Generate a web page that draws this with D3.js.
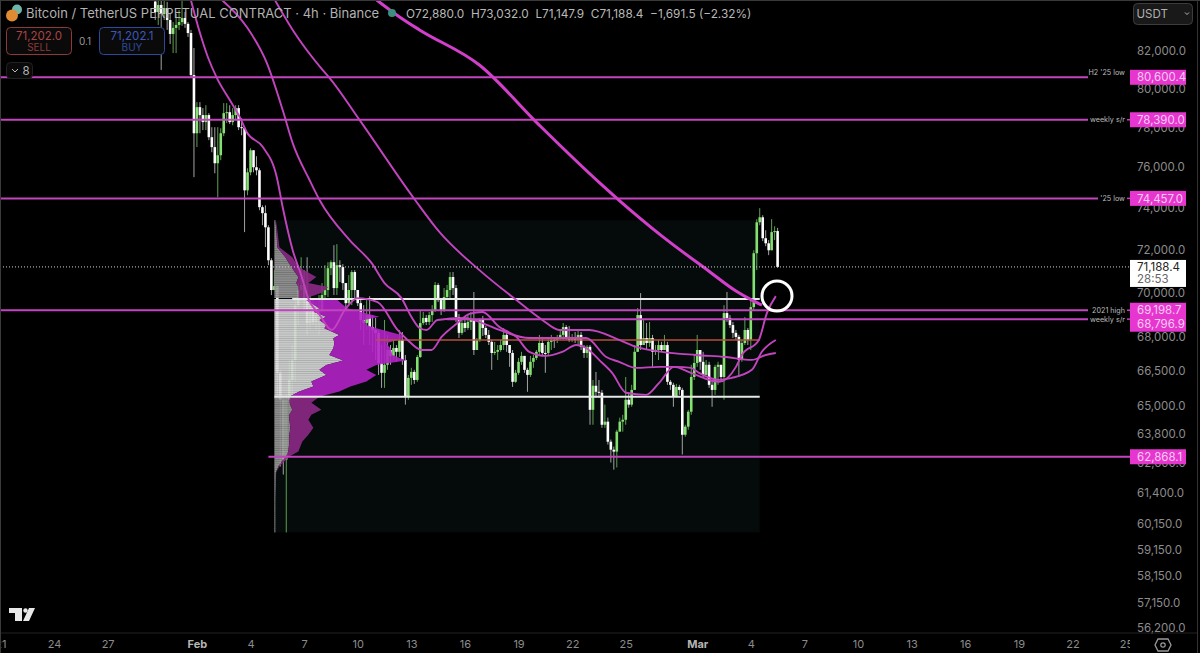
<!DOCTYPE html>
<html><head><meta charset="utf-8">
<script src="https://cdn.jsdelivr.net/npm/d3@7/dist/d3.min.js"></script>
<style>html,body{margin:0;padding:0;background:#000;overflow:hidden}svg{display:block;font-family:Inter,"Liberation Sans",sans-serif}</style>
</head><body><svg id="c" width="1200" height="653"></svg>
<script>
// ---- candles (4h, first bar 2026-01-29 16:00 UTC); open = previous close
const firstBar = "2026-01-29T16:00:00Z";
const firstOpen = 84700;
const closes = [84120,84510,
84010,84340,83680,82920,83250,83410,
83570,83790,83470,82970,80720,77700,
79040,78630,78270,78630,77500,77000,
76190,76590,77700,78730,78780,78270,
78630,78990,78010,77960,74850,75740,
76840,75990,75840,74030,73740,73060,
71500,70120,70300,66420,65260,62750,
65260,66110,66980,69430,70120,70350,
69660,68620,69430,68670,68980,69210,
69890,70120,71130,71410,70210,71270,
71180,70440,69520,70120,70950,70120,
69520,68760,68620,68980,68440,68310,
68180,66850,66420,66770,67420,67160,
67510,67340,67870,66980,65380,66200,
66460,66110,67110,68620,68850,68670,
68980,69210,70350,69660,69210,69800,
70120,70720,70210,68890,68180,68620,
68400,68670,68760,67420,67870,68760,
68400,68090,67780,67290,67340,67420,
67640,68090,67640,67290,66030,66420,
66900,67160,66550,66330,66900,67070,
67340,67730,67290,67290,67780,67870,
67870,67950,68090,68440,68000,67870,
67950,67870,68090,67560,67290,67560,
64830,65860,65600,65560,64200,64330,
63490,63160,63080,63910,64330,64410,
65260,65050,65680,67340,68980,67640,
67950,67730,67950,67340,67420,67640,
67420,67640,66030,65900,65380,65810,
65680,63780,64120,64750,66240,66850,
67420,66900,66330,66770,65900,65680,
66680,66770,66240,69070,68850,68530,
68180,68000,66980,67730,68310,67870,
69340,71830,73300,73540,72540,72300,
71970,72830,72880,71188.4];
const highs = [84785,84785,
84785,84785,84680,84010,83570,84010,
84230,84785,84120,83570,83140,82160,
79300,79300,78990,79140,78730,78010,
78010,78010,77960,79250,79250,79140,
78990,79140,79140,78470,77960,75940,
76940,76840,76540,75940,74120,74120,
73160,71600,71040,70350,66550,65340,
65470,66980,67640,69660,70440,71640,
71040,71640,69890,69660,69570,69890,
70440,71270,71410,71500,72210,72260,
71500,71320,70440,70810,71040,71040,
70030,69660,69430,69660,69840,68980,
68850,68310,67640,68760,68090,67640,
67870,67640,68310,68220,67200,66330,
66640,66550,67200,69210,69120,68980,
69120,69430,70490,70440,69750,70210,
70350,70950,70950,70350,69030,68850,
68850,68980,69120,70030,67950,68850,
68940,68490,68310,67870,67780,67640,
67870,68400,68310,67640,67420,66550,
67070,67340,67160,66640,67160,67200,
67420,68090,68000,67640,67950,68090,
67950,68090,68310,68620,68530,68490,
68130,68220,68310,68220,67640,67640,
67640,66110,66460,66110,65680,65050,
64500,63580,63290,63990,64500,64620,
66240,65560,65900,67640,69300,69980,
68760,68620,68670,68090,67640,67870,
67780,68090,67780,66110,65990,65940,
65900,65770,64200,64830,66770,67200,
68090,67420,67340,66980,66900,66110,
66770,66900,66770,69430,70030,68980,
68670,68310,68090,67870,68890,68400,
69660,71970,73450,73980,73640,72920,
72450,73450,73110,73032];
const lows = [83680,83410,
80990,83680,83140,82380,81890,81890,
83140,83360,83250,82760,80560,75500,
77000,77700,77860,77860,77350,76740,
75690,74510,76340,77550,78220,78170,
78110,78370,77860,77600,72830,74610,
75590,75740,75590,73880,73160,72120,
71270,69890,70120,65380,62470,62140,
59830,64830,65470,66030,68530,69660,
69120,68090,68310,68530,68310,68090,
69120,69660,69800,70810,69890,69890,
70490,70120,69210,69430,69430,69660,
69390,68310,67640,68310,67640,67340,
66980,66330,65770,65770,66550,66770,
66980,66900,67110,66770,65050,65260,
65900,65940,66030,67070,68530,68530,
68530,68670,69120,69570,68980,69120,
69660,69750,69890,68670,67950,68090,
68220,68310,68310,67200,67420,67780,
68040,67950,67640,66550,67200,66980,
67340,67420,67340,66680,65810,65990,
66330,66770,66420,65600,66240,66640,
66980,67200,67160,66420,67200,67420,
67510,67730,67870,67870,67870,67780,
67780,67730,67640,67420,67070,67070,
64200,64200,65340,65340,64070,64070,
63370,62630,62340,62430,63910,63910,
64200,64920,64960,65680,67340,67420,
67640,67420,67560,66680,67200,66980,
67340,67420,65900,65680,64960,65600,
65470,62960,63700,63990,64620,66110,
66680,66550,66200,66330,65770,64960,
65470,65900,66030,65260,68670,68400,
67950,67870,66240,66900,67640,67640,
67420,69210,71040,73160,72400,72160,
71740,71970,72450,71147.9];

// ---- moving averages: day offset from 1 Feb and price
const epochFeb1 = "2026-02-01T00:00:00Z";
const maFastDays = [-0.34,0.17,0.61,1.12,1.84,2.40,2.79,3.69,4.47,4.80,5.36,5.87,6.20,6.87,7.54,8.27,8.99,10.11,11.23,11.79,12.57,13.13,13.69,14.58,15.25,15.98,16.93,17.88,18.60,19.55,20.45,21.23,21.79,22.51,23.24,24.02,25.14,25.87,26.70,27.65,29.22,30.17,30.50,31.45,31.90,32.40];
const maFastPrices = [84785,82970,81680,80560,79406,78525,77755,77000,75495,74025,71975,70720,69800,68980,68310,69207,69750,69570,68310,67865,67423,67423,68000,68620,69030,69120,68440,68000,67340,67160,67340,67640,67510,66985,66420,65560,65470,65985,66680,66420,66030,66680,67200,67865,69070,69840];
const maMidDays = [1.40,2.79,3.91,4.80,5.36,6.31,6.87,8.55,9.78,10.50,11.45,12.01,12.46,12.85,13.46,14.97,15.98,16.93,18.60,20.11,21.79,22.91,23.63,24.58,25.87,26.82,27.65,28.10,29.22,29.94,31.06,31.62,32.40];
const maMidPrices = [84785,83300,81360,78890,77200,75345,74365,72445,71365,70440,69750,68890,68400,68310,68760,68850,68620,68310,67950,67950,67950,67110,66900,66635,66680,66680,66635,66420,66115,66200,66550,67340,67865];
const maSlowDays = [4.36,5.36,7.04,7.43,9.11,12.18,13.58,15.81,17.88,19.33,20.28,21.96,23.63,24.58,26.03,27.93,29.61,31.06,31.84,32.40];
const maSlowPrices = [84785,83140,80985,80560,78370,74415,72825,71040,69660,68760,68310,68310,67865,67555,67340,67200,67110,66985,67200,67290];
const maLongDays = [10.06,11.34,12.46,15.81,19.16,22.51,23.63,26.03,28.66,30.17,31.06,31.62];
const maLongPrices = [84785,83850,83140,81250,78115,75240,74365,72640,70990,70075,69660,69435];

// ---- volume profile rows
const vpPrices = [73400,72920,72115,71640,71180,70720,70440,70255,69980,69750,69705,69510,69285,69130,68905,68760,68530,68385,68090,67940,67720,67500,67205,66955,66765,66550,66330,66040,65825,65610,65385,65130,64835,64620,64410,64075,63785,63495,63080,62875,62470,62225,61135,59830];
const vpGrey = [1,2,3,11,17,24,22,24,24,24,30,37,45,39,52,45,52,50,65,59,60,59,55,69,52,45,52,37,39,25,15,15,18,15,15,16,15,15,14,11,4,1.5,1,1];
const vpColor = [0.5,1,2,7,7,18,12,30,23,8,32,30,28,47,53,45,40,52,62,70,52,57,63,63,50,47,50,55,37,40,30,22,29,22,19,23,19,13,10,4,1,0.3,0,0];
const vaHigh = 69705, vaLow = 65385, poc = 67865;

// ---- levels
const levelPrices = [80600.4,78390.0,74457.0,69198.7,68796.9,62868.1];
const levelNotes = ["H2 '25 low","weekly s/r","'25 low","2021 high","weekly s/r",""];
const levelStarts = ["2026-01-21","2026-01-21","2026-01-21","2026-01-21","2026-02-15","2026-02-05T00:00:00Z"];
const lastPrice = 71188.4;
const priceTicks = [82000,80000,78000,76000,74000,72000,70000,68000,66500,65000,63800,62600,61400,60150,59150,58150,57150,56200];
const timeTickDates = ["2026-01-21","2026-01-24","2026-01-27","2026-02-01","2026-02-04","2026-02-07","2026-02-10","2026-02-13","2026-02-16","2026-02-19","2026-02-22","2026-02-25","2026-03-01","2026-03-04","2026-03-07","2026-03-10","2026-03-13","2026-03-16","2026-03-19","2026-03-22","2026-03-25"];
const zoneStart = "2026-02-05T08:00:00Z", zoneEnd = "2026-03-04T12:00:00Z", zoneTop = 73400, zoneBottom = 59830;

const W=1200,H=653,plotR=1130,plotB=633;
const pink="#c344bf", tag="#e636cf";
const svg=d3.select("#c");
const x=d3.scaleUtc().domain([new Date("2026-01-21"),new Date("2026-03-25")]).range([0.4,1126]);
const y=d3.scaleLog().domain([82000,56200]).range([51,628]);
const t0=+new Date(firstBar), feb1=+new Date(epochFeb1), DAY=864e5;

svg.append("rect").attr("width",W).attr("height",H).attr("fill","#000");
const defs=svg.append("defs");
defs.append("clipPath").attr("id","plot").append("rect").attr("width",plotR).attr("height",plotB);
defs.append("clipPath").attr("id","time").append("rect").attr("width",plotR).attr("height",H);
const pat=defs.append("pattern").attr("id","rows").attr("patternUnits","userSpaceOnUse").attr("width",4).attr("height",2.2);
pat.append("rect").attr("width",4).attr("height",2.2).attr("fill","#dedede");
pat.append("rect").attr("y",1.5).attr("width",4).attr("height",.7).attr("fill","#bcbcbc");
const pat2=defs.append("pattern").attr("id","rowsDim").attr("patternUnits","userSpaceOnUse").attr("width",4).attr("height",2.2);
pat2.append("rect").attr("width",4).attr("height",2.2).attr("fill","#9a9a9a");
pat2.append("rect").attr("y",1.5).attr("width",4).attr("height",.7).attr("fill","#7e7e7e");

const g=svg.append("g").attr("clip-path","url(#plot)");
// zone
g.append("rect").attr("x",x(new Date(zoneStart))).attr("width",x(new Date(zoneEnd))-x(new Date(zoneStart)))
 .attr("y",y(zoneTop)).attr("height",y(zoneBottom)-y(zoneTop)).attr("fill","#040b0a");

// candles
const bars=closes.map((c,i)=>({t:new Date(t0+i*4*36e5),o:i?closes[i-1]:firstOpen,c,h:highs[i],l:lows[i]}));
const isUp=d=>d.c>d.o;
const cg=g.append("g");
cg.selectAll("line").data(bars).join("line")
 .attr("x1",d=>x(d.t)).attr("x2",d=>x(d.t)).attr("y1",d=>y(d.h)).attr("y2",d=>y(d.l))
 .attr("stroke",d=>isUp(d)?"#5f9f52":"#a3a3a3").attr("stroke-width",1);
cg.selectAll("rect").data(bars).join("rect")
 .attr("x",d=>x(d.t)-1.3).attr("width",2.6)
 .attr("y",d=>y(Math.max(d.o,d.c))).attr("height",d=>Math.max(1,Math.abs(y(d.o)-y(d.c))))
 .attr("fill",d=>isUp(d)?"#84e070":"#ffffff");

// volume profile
const vpX=d3.scaleLinear().domain([0,132]).range([x(new Date(zoneStart)),x(new Date(zoneStart))+132]);
const rows=vpPrices.map((p,i)=>({p,a:vpGrey[i],b:vpColor[i]}));
const zones=[
 {f:r=>r.p>vaHigh,grey:"url(#rowsDim)",col:"#8d2a88"},
 {f:r=>r.p<=vaHigh&&r.p>=vaLow,grey:"url(#rows)",col:"#b322c6"},
 {f:r=>r.p<=vaLow,grey:"url(#rowsDim)",col:"#8d2a88"}];
const vp=g.append("g").attr("opacity",.9);
const areaG=d3.area().y(r=>y(r.p)).x0(vpX(0)).x1(r=>vpX(r.a));
const areaC=d3.area().y(r=>y(r.p)).x0(r=>vpX(r.a)).x1(r=>vpX(r.a+r.b));
zones.forEach(z=>{const d=rows.filter(z.f);
 vp.append("path").attr("d",areaG(d)).attr("fill",z.grey);
 vp.append("path").attr("d",areaC(d)).attr("fill",z.col);});

// value area + POC lines
const vaEnd=x(new Date(zoneEnd));
[[vaHigh,"#e8e8e8",x(new Date("2026-02-06T08:00:00Z")),2],[vaLow,"#e8e8e8",x(new Date(zoneStart)),2],[poc,"#b9503c",x(new Date("2026-02-11T00:00:00Z")),1.5]]
.forEach(([p,c,s,w])=>g.append("line").attr("x1",s).attr("x2",vaEnd).attr("y1",y(p)).attr("y2",y(p)).attr("stroke",c).attr("stroke-width",w));

// levels
const levelEnd=[1088,1088,1098,1088,1088,plotR];
levelPrices.forEach((p,i)=>{
 g.append("line").attr("x1",x(new Date(levelStarts[i]))).attr("x2",levelEnd[i]).attr("y1",y(p)).attr("y2",y(p)).attr("stroke",pink).attr("stroke-width",2);
 if(levelNotes[i]){
  g.append("text").attr("x",1125).attr("y",y(p)-(i===0?5:0)).attr("dy","0.35em").attr("text-anchor","end").attr("font-size",7.2).attr("fill","#bdbdbd").text(levelNotes[i]);
  if(i) g.append("line").attr("x1",1127).attr("x2",plotR).attr("y1",y(p)).attr("y2",y(p)).attr("stroke",pink).attr("stroke-width",1.5);
 }
});

// MAs
const maLine=d3.line().x(d=>x(new Date(feb1+d[0]*DAY))).y(d=>y(d[1])).curve(d3.curveMonotoneX);
const maG=g.append("g").attr("fill","none").attr("stroke-linejoin","round");
[[maFastDays,maFastPrices,1.9],[maMidDays,maMidPrices,1.9],[maSlowDays,maSlowPrices,1.9],[maLongDays,maLongPrices,3]].forEach(([ds,ps,w])=>{
 maG.append("path").attr("d",maLine(ds.map((d,i)=>[d,ps[i]]))).attr("stroke",w>2?"#d23fcb":pink).attr("stroke-width",w);
});

// last price dotted line
g.append("line").attr("x1",0).attr("x2",plotR).attr("y1",y(lastPrice)).attr("y2",y(lastPrice)).attr("stroke","#d0d0d0").attr("stroke-dasharray","1 2");

// highlight circle
g.append("circle").attr("cx",777).attr("cy",296).attr("r",15).attr("fill","none").attr("stroke","#fff").attr("stroke-width",3);

// price axis
const ay=svg.append("g").attr("transform",`translate(${plotR},0)`).call(d3.axisRight(y).tickValues(priceTicks).tickSize(0).tickPadding(7).tickFormat(d3.format(",.1f")));
ay.select(".domain").remove();
ay.selectAll("text").attr("font-size",11.5).attr("fill","#8c8c8c").attr("font-family","Inter,'Liberation Sans',sans-serif");

// time axis
const fmt=d=>{const day=d.getUTCDate();return day===1?d3.utcFormat("%b")(d):String(day);};
const ax=svg.append("g").attr("transform",`translate(0,${plotB})`).attr("clip-path","url(#time)").call(d3.axisBottom(x).tickValues(timeTickDates.map(d=>new Date(d))).tickSize(0).tickPadding(7).tickFormat(fmt));
ax.select(".domain").remove();
ax.selectAll("text").attr("font-size",11).attr("font-family","Inter,'Liberation Sans',sans-serif").attr("fill",d=>d.getUTCDate()===1?"#b5b5b5":"#8c8c8c").attr("font-weight",d=>d.getUTCDate()===1?700:400);

// frame
svg.append("line").attr("x1",0).attr("x2",1197).attr("y1",plotB).attr("y2",plotB).attr("stroke","#222");
svg.append("line").attr("x1",1197.5).attr("x2",1197.5).attr("y1",0).attr("y2",H).attr("stroke","#333");
svg.append("line").attr("x1",0).attr("x2",W).attr("y1",.5).attr("y2",.5).attr("stroke","#3a3a3a");
svg.append("line").attr("x1",.5).attr("x2",.5).attr("y1",0).attr("y2",H).attr("stroke","#3a3a3a");

// price tags: a label that would collide with the one above is pushed down
let prevTag=-99;
const tagY=levelPrices.map(p=>{const v=Math.max(y(p),prevTag+14);prevTag=v;return v;});
levelPrices.forEach((p,i)=>{
 svg.append("rect").attr("x",plotR).attr("y",tagY[i]-7.5).attr("width",56).attr("height",15).attr("fill",tag);
});
levelPrices.forEach((p,i)=>{
 svg.append("text").attr("x",plotR+7).attr("y",tagY[i]).attr("dy","0.36em").attr("font-size",11.5).attr("fill","#f8cdf2").text(d3.format(",.1f")(p));
});
const ly=y(lastPrice);
svg.append("rect").attr("x",plotR).attr("y",ly-7).attr("width",56).attr("height",27).attr("fill","#fff");
svg.append("text").attr("x",plotR+7).attr("y",ly).attr("dy","0.36em").attr("font-size",11.5).attr("fill","#222").text(d3.format(",.1f")(lastPrice));
svg.append("text").attr("x",plotR+7).attr("y",ly+12).attr("dy","0.36em").attr("font-size",11.5).attr("fill","#666").text("28:53");

// header
svg.append("circle").attr("cx",17).attr("cy",9.5).attr("r",5).attr("fill","#6fb5a8");
svg.append("circle").attr("cx",12).attr("cy",15.5).attr("r",6).attr("fill","#e08a32");
svg.append("text").attr("x",26).attr("y",18).attr("font-size",13).attr("fill","#b2b2b2").text("Bitcoin / TetherUS PERPETUAL CONTRACT · 4h · Binance");
svg.append("circle").attr("cx",392).attr("cy",13).attr("r",4).attr("fill","#3a8f7e");
svg.append("text").attr("x",406).attr("y",17.5).attr("font-size",11.8).attr("fill","#b8b8b8").attr("xml:space","preserve").text("O72,880.0  H73,032.0  L71,147.9  C71,188.4  −1,691.5 (−2.32%)");

function box(bx,by,w,h,stroke,fill){svg.append("rect").attr("x",bx).attr("y",by).attr("width",w).attr("height",h).attr("rx",4).attr("fill",fill).attr("stroke",stroke);}
function label(tx,ty,s,size,fill,anchor){svg.append("text").attr("x",tx).attr("y",ty).attr("font-size",size).attr("fill",fill).attr("text-anchor",anchor||"middle").text(s);}
box(6.5,27.5,65,27,"#8e3a3a","#0a0a0a");
label(39,40,"71,202.0",11.5,"#a84444");label(39,51,"SELL",10,"#8e3a3a");
label(85,45,"0.1",10,"#999");
box(99.5,27.5,65,27,"#2b4a9c","#0a0a0a");
label(132,40,"71,202.1",11.5,"#3d58b8");label(132,51,"BUY",10,"#2f4a9c");
box(6.5,62.5,26,16,"#222","#0a0a0a");
svg.append("path").attr("d","M12 69l3 3 3-3").attr("fill","none").attr("stroke","#bbb").attr("stroke-width",1);
label(26,75,"8",11.5,"#b5b5b5");
box(1133.5,3.5,59,21,"#3c3c3c","#191919");
label(1136.5,18,"USDT",11.5,"#b0b0b0","start");
svg.append("path").attr("d","M1185 12.5l2 2 2-2").attr("fill","none").attr("stroke","#bbb").attr("stroke-width",1);

// logo and gear
svg.append("path").attr("fill","#e8e8e8").attr("d","M9 608h13v13h-7v-8h-6zM29 608h6l-6 13h-6z");
svg.append("circle").attr("cx",25.5).attr("cy",610.5).attr("r",2.2).attr("fill","#e8e8e8");
svg.append("path").attr("d","M1158 639h10l3 6-3 6h-10l-3-6z").attr("fill","none").attr("stroke","#9a9a9a").attr("stroke-width",1.3);
svg.append("circle").attr("cx",1163).attr("cy",645).attr("r",2.2).attr("fill","none").attr("stroke","#9a9a9a").attr("stroke-width",1.2);
</script></body></html>
